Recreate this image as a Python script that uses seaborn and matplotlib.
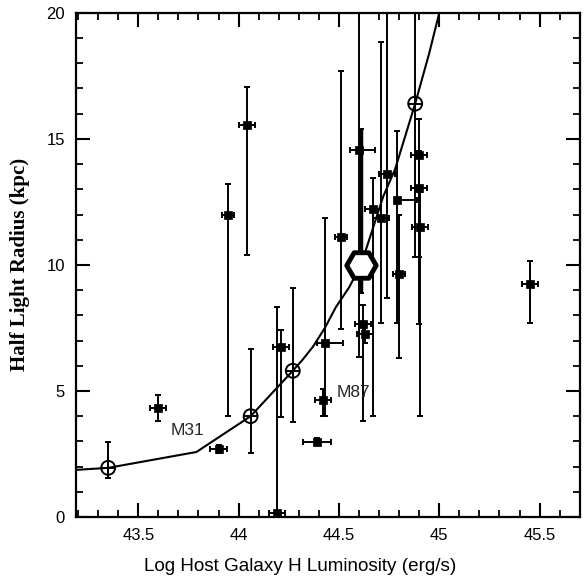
import matplotlib
matplotlib.use("Agg")
import matplotlib.pyplot as plt
import numpy as np
import pandas as pd
import seaborn as sns
from matplotlib.ticker import MultipleLocator

# Observed hosts (filled squares): position, vertical error extent, horizontal error
obs_x = [43.60, 43.90, 43.945, 44.04, 44.19, 44.21, 44.39, 44.42, 44.43, 44.51,
         44.60, 44.62, 44.63, 44.67, 44.71, 44.74, 44.79, 44.80, 44.90, 44.90,
         44.905, 45.45]
obs_y = [4.33, 2.70, 12.0, 15.55, 0.15, 6.75, 2.98, 4.64, 6.90, 11.1,
         14.56, 7.66, 7.26, 12.2, 11.87, 13.6, 12.58, 9.64, 14.37, 13.05,
         11.5, 9.24]
obs_ylo = [3.81, 2.55, 4.0, 10.4, 0.0, 3.97, 2.85, 4.0, 4.0, 7.46,
           6.35, 3.8, 6.9, 4.0, 7.7, 8.7, 7.7, 6.3, 10.3, 7.66,
           4.0, 7.7]
obs_yhi = [4.84, 2.85, 13.2, 17.06, 8.33, 7.42, 3.15, 5.08, 11.87, 17.7,
           22.0, 8.4, 7.7, 13.45, 18.85, 22.0, 15.3, 12.0, 15.8, 14.5,
           12.9, 10.16]
obs_xlo = [0.04, 0.04, 0.03, 0.04, 0.04, 0.04, 0.07, 0.04, 0.04, 0.03,
           0.045, 0.04, 0.04, 0.04, 0.04, 0.04, 0.01, 0.03, 0.04, 0.04,
           0.04, 0.04]
obs_xhi = [0.04, 0.04, 0.03, 0.04, 0.04, 0.04, 0.07, 0.04, 0.09, 0.03,
           0.08, 0.04, 0.04, 0.04, 0.04, 0.04, 0.10, 0.03, 0.04, 0.04,
           0.04, 0.04]

# Model points (open circles) with error extents
mod_x = [43.35, 44.06, 44.27, 44.88]
mod_y = [1.95, 4.0, 5.8, 16.4]
mod_ylo = [1.55, 2.54, 3.77, 10.3]
mod_yhi = [2.98, 6.67, 9.08, 22.0]

# Big hexagon
hex_x = [44.61]
hex_y = [10.0]
hex_ylo = [8.9]
hex_yhi = [15.4]

# Model curve
curve_x = [43.19, 43.35, 43.79, 44.06, 44.20, 44.27, 44.32, 44.37, 44.43,
           44.485, 44.55, 44.61, 44.72, 44.78, 44.88, 44.95, 45.0]
curve_y = [1.87, 1.95, 2.58, 4.0, 5.2, 5.8, 6.25, 6.75, 7.5,
           8.33, 9.1, 10.0, 12.7, 13.8, 16.4, 18.4, 20.0]

sns.set_theme(style="ticks")
plt.rcParams['font.family'] = ['Liberation Sans', 'DejaVu Sans']

fig = plt.figure(figsize=(5.85, 5.84), dpi=100)
ax = fig.add_axes([0.130, 0.1147, 0.861, 0.8633])

obs = pd.DataFrame({'x': obs_x, 'y': obs_y})
mod = pd.DataFrame({'x': mod_x, 'y': mod_y})
curve = pd.DataFrame({'x': curve_x, 'y': curve_y})

sns.lineplot(data=curve, x='x', y='y', sort=False, estimator=None,
             color='black', linewidth=1.5, ax=ax)

oy = np.array(obs_y)
ax.errorbar(obs_x, obs_y,
            yerr=[oy - np.array(obs_ylo), np.array(obs_yhi) - oy],
            xerr=[obs_xlo, obs_xhi], fmt='none', ecolor='black',
            elinewidth=1.4, capsize=2.5, capthick=1.4)
my = np.array(mod_y)
ax.errorbar(mod_x, mod_y,
            yerr=[my - np.array(mod_ylo), np.array(mod_yhi) - my],
            fmt='none', ecolor='black', elinewidth=1.4, capsize=2.5, capthick=1.4)
hy = np.array(hex_y)
ax.errorbar(hex_x, hex_y,
            yerr=[hy - np.array(hex_ylo), np.array(hex_yhi) - hy],
            fmt='none', ecolor='black', elinewidth=2.5, capsize=2.5, capthick=1.4)

sns.scatterplot(data=obs, x='x', y='y', marker='s', s=40, color='black',
                edgecolor='black', ax=ax, zorder=5)
sns.scatterplot(data=mod, x='x', y='y', marker='o', s=100, facecolors='none',
                edgecolor='black', linewidth=1.4, ax=ax, zorder=5)
sns.scatterplot(data=mod, x='x', y='y', marker='+', s=100, color='black',
                linewidth=1.4, ax=ax, zorder=5)
ax.scatter(hex_x, hex_y, marker='H', s=450, facecolors='white',
           edgecolors='black', linewidths=3.5, zorder=6)

ax.text(43.66, 3.45, 'M31', fontsize=12.5, ha='left', va='center')
ax.text(44.49, 4.95, 'M87', fontsize=12.5, ha='left', va='center')

ax.set_xlim(43.19, 45.70)
ax.set_ylim(0, 20)
ax.xaxis.set_major_locator(MultipleLocator(0.5))
ax.xaxis.set_minor_locator(MultipleLocator(0.1))
ax.yaxis.set_major_locator(MultipleLocator(5))
ax.yaxis.set_minor_locator(MultipleLocator(1))
ax.set_xticks([43.5, 44, 44.5, 45, 45.5])
ax.set_xticklabels(['43.5', '44', '44.5', '45', '45.5'])
ax.tick_params(which='both', direction='in', top=True, right=True,
               color='black', labelsize=12, labelcolor='black')
ax.tick_params(which='major', length=10, width=1.5, pad=8)
ax.tick_params(which='minor', length=5, width=1.3)
for sp in ax.spines.values():
    sp.set_linewidth(1.6)
    sp.set_color('black')

ax.set_xlabel('Log Host Galaxy H Luminosity (erg/s)', fontsize=13.6, color='black')
ax.set_ylabel('Half Light Radius (kpc)', fontsize=15, fontweight='bold',
              family=['Liberation Serif', 'DejaVu Serif'], color='black')
ax.xaxis.set_label_coords(0.445, -0.082)
ax.yaxis.set_label_coords(-0.092, 0.5)

fig.savefig('out.png', dpi=100)
